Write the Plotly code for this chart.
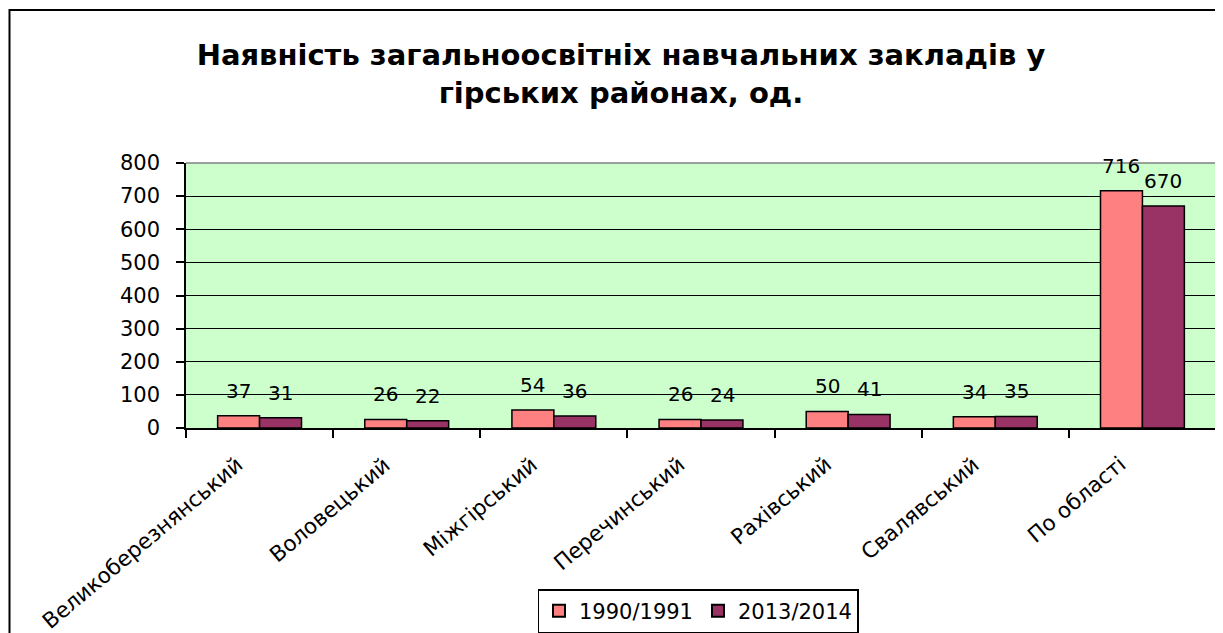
import plotly.graph_objects as go

categories = ["Великоберезнянський", "Воловецький", "Міжгірський", "Перечинський",
              "Рахівський", "Свалявський", "По області"]
series_names = ["1990/1991", "2013/2014"]
values_1990 = [37, 26, 54, 26, 50, 34, 716]
values_2013 = [31, 22, 36, 24, 41, 35, 670]
y_ticks = [0, 100, 200, 300, 400, 500, 600, 700, 800]
title_text = "Наявність загальноосвітніх навчальних закладів у<br>гірських районах, од."

colors = ["#FF8080", "#993366"]
FONT = "DejaVu Sans, Liberation Sans, Arial, sans-serif"

W, H = 1223, 633
OFF = 8  # page body margin offset
L, R, T, B = 186 - OFF, W - (1216 - OFF), 163 - OFF, H - (428 - OFF)
pw, ph = W - L - R, H - T - B

def px_x(p):
    return (p - OFF - L) / pw

def px_y(p):
    return (H - B - (p - OFF)) / ph

fig = go.Figure()
for name, vals, col in zip(series_names, [values_1990, values_2013], colors):
    fig.add_trace(go.Bar(
        x=categories, y=vals, name=name,
        marker=dict(color=col, line=dict(color="black", width=1.5)),
    ))

annotations = []
for shift, vals in zip([-21, 21], [values_1990, values_2013]):
    for c, v in zip(categories, vals):
        annotations.append(dict(
            x=c, y=v, xref="x", yref="y", text=str(v), showarrow=False,
            xshift=shift, yshift=25, yanchor="middle",
            font=dict(family=FONT, size=20, color="black"),
        ))

# rotated category labels
for c in categories:
    annotations.append(dict(
        x=c, y=0, xref="x", yref="paper", text=c, showarrow=False,
        textangle=-40, xanchor="right", yanchor="top",
        xshift=-9, yshift=-21,
        font=dict(family=FONT, size=21.5, color="black"),
    ))

shapes = [
    # outer chart border
    dict(type="rect", xref="paper", yref="paper",
         x0=px_x(9.5), x1=px_x(1240), y0=px_y(660), y1=px_y(10),
         line=dict(color="black", width=2), fillcolor="rgba(0,0,0,0)", layer="below"),
    # plot area top/right gray border
    dict(type="line", xref="paper", yref="paper", x0=0, x1=1, y0=1, y1=1,
         line=dict(color="#808080", width=1.5), layer="above"),
    dict(type="line", xref="paper", yref="paper", x0=1, x1=1, y0=0, y1=1,
         line=dict(color="#808080", width=1.5), layer="above"),
]

fig.update_layout(
    width=W, height=H,
    margin=dict(l=L, r=R, t=T, b=B, autoexpand=False),
    paper_bgcolor="white",
    plot_bgcolor="#CCFFCC",
    barmode="group", bargap=0.43, bargroupgap=0,
    font=dict(family=FONT, size=20, color="black"),
    title=dict(text=title_text, xref="container", x=(621 - OFF) / W, xanchor="center",
               yref="container", y=1 - (65 - OFF) / H, yanchor="middle",
               font=dict(family=FONT, size=29, color="black", weight="bold")),
    xaxis=dict(
        type="category", categoryorder="array", categoryarray=categories,
        range=[-0.5, len(categories) - 0.5], autorange=False,
        tickson="boundaries", showticklabels=False,
        ticks="outside", ticklen=8, tickcolor="black", tickwidth=1.5,
        showline=True, linecolor="black", linewidth=1.5,
        showgrid=False,
    ),
    yaxis=dict(
        range=[0, 800], autorange=False, tickvals=y_ticks,
        ticks="outside", ticklen=8, tickcolor="black", tickwidth=1.5,
        showline=True, linecolor="black", linewidth=1.5,
        showgrid=True, gridcolor="black", gridwidth=1,
        zeroline=False, ticklabelstandoff=12,
        tickfont=dict(family=FONT, size=21),
    ),
    legend=dict(
        orientation="h", x=px_x(698), xanchor="center", y=px_y(589), yanchor="top",
        bordercolor="black", borderwidth=1.5, bgcolor="white",
        font=dict(family=FONT, size=21), itemsizing="constant",
        traceorder="normal",
    ),
    annotations=annotations,
    shapes=shapes,
)

fig.write_html("out.html")
